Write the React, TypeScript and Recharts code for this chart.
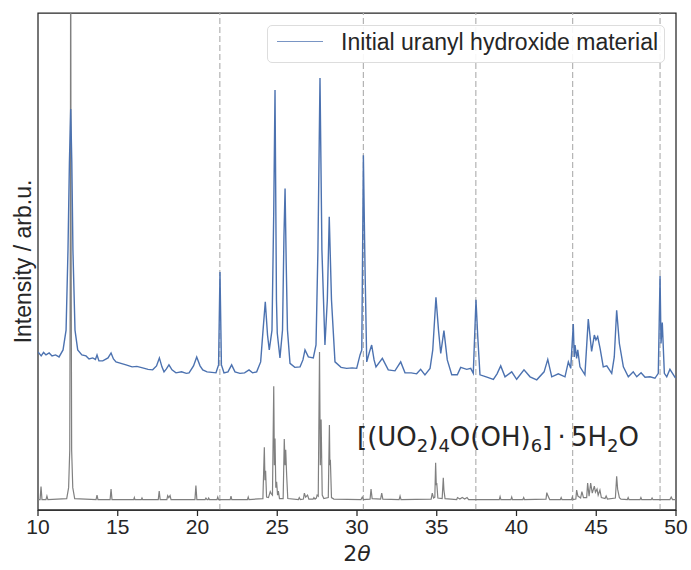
import React from 'react';
import {
  ComposedChart,
  Line,
  XAxis,
  YAxis,
  ReferenceLine,
  ReferenceArea,
  ReferenceDot,
  Legend,
  Label,
} from 'recharts';

const xTicks = [10, 15, 20, 25, 30, 35, 40, 45, 50];
const markerPositions = [21.4, 30.4, 37.45, 43.52, 49.0];
const measuredLabel = 'Initial uranyl hydroxide material';
const yAxisLabel = 'Intensity / arb.u.';
const annotationAnchor: [number, number] = [30.0, 12.9];

// measured pattern (2θ, intensity)
const measuredPattern: [number, number][] = [
  [10.0, 31.8], [10.2, 31.0], [10.35, 31.7], [10.5, 31.2], [10.7, 31.6], [10.88, 31.0], [11.1, 31.2], [11.32, 30.8],
  [11.57, 32.2], [11.76, 36.2], [11.88, 52.3], [11.97, 70.0], [12.05, 80.7], [12.12, 70.0], [12.19, 52.3], [12.32, 36.2],
  [12.49, 32.2], [12.75, 31.2], [13.01, 31.0], [13.2, 30.4], [13.43, 30.6], [13.6, 30.3], [13.7, 31.2], [13.82, 30.0],
  [14.06, 30.0], [14.39, 30.6], [14.58, 31.6], [14.73, 30.4], [14.89, 29.8], [15.2, 29.5], [15.52, 29.2], [15.9, 28.8],
  [16.2, 28.9], [16.56, 28.6], [16.9, 28.3], [17.19, 28.2], [17.43, 29.0], [17.61, 30.6], [17.77, 28.8], [17.9, 27.8],
  [18.05, 28.4], [18.21, 29.2], [18.4, 28.2], [18.65, 27.6], [19.0, 27.8], [19.3, 27.5], [19.47, 27.6], [19.75, 29.0],
  [19.95, 30.8], [20.16, 29.0], [20.33, 28.2], [20.6, 27.8], [20.9, 27.7], [21.16, 27.6], [21.32, 29.2], [21.41, 47.9],
  [21.5, 29.2], [21.66, 27.6], [21.91, 27.8], [22.14, 29.2], [22.35, 27.8], [22.66, 27.5], [22.95, 27.6], [23.23, 28.2],
  [23.45, 27.6], [23.71, 27.8], [23.96, 29.8], [24.11, 36.2], [24.25, 41.9], [24.39, 35.2], [24.5, 32.2], [24.67, 36.2],
  [24.78, 60.0], [24.86, 84.5], [24.95, 42.3], [25.0, 35.6], [25.17, 30.6], [25.33, 36.2], [25.42, 55.0], [25.49, 64.7],
  [25.56, 50.0], [25.64, 36.2], [25.8, 29.5], [26.1, 28.7], [26.43, 28.8], [26.61, 30.2], [26.74, 32.2], [26.95, 30.8],
  [27.26, 30.6], [27.43, 33.2], [27.55, 52.3], [27.68, 86.9], [27.8, 52.3], [27.99, 33.2], [28.14, 42.3], [28.26, 59.0],
  [28.4, 42.3], [28.62, 29.8], [29.0, 28.7], [29.35, 28.5], [29.7, 28.6], [29.98, 28.5], [30.19, 31.2], [30.3, 32.2],
  [30.4, 71.4], [30.5, 49.3], [30.61, 29.8], [30.78, 31.8], [30.92, 33.2], [31.07, 30.2], [31.19, 28.8], [31.59, 30.5],
  [31.96, 28.2], [32.38, 28.0], [32.74, 29.8], [33.01, 27.6], [33.4, 27.6], [33.74, 27.4], [33.99, 28.3], [34.26, 27.2],
  [34.58, 28.5], [34.75, 32.2], [34.95, 42.8], [35.11, 36.2], [35.25, 31.5], [35.45, 36.1], [35.66, 30.2], [35.94, 27.2],
  [36.29, 27.2], [36.5, 28.7], [36.88, 28.3], [37.13, 28.5], [37.29, 27.5], [37.46, 42.3], [37.57, 34.9], [37.71, 27.2],
  [38.1, 26.8], [38.55, 26.3], [38.78, 27.4], [39.01, 29.0], [39.28, 26.8], [39.7, 27.8], [40.01, 26.3], [40.47, 28.2],
  [40.85, 26.8], [41.27, 26.2], [41.73, 27.8], [41.96, 30.3], [42.21, 26.8], [42.62, 27.4], [43.04, 26.8], [43.25, 29.8],
  [43.4, 28.5], [43.56, 37.4], [43.62, 30.8], [43.67, 33.2], [43.77, 30.5], [43.84, 32.2], [43.98, 28.8], [44.29, 27.2],
  [44.5, 38.4], [44.71, 31.9], [44.88, 35.2], [44.98, 34.2], [45.09, 34.9], [45.24, 32.5], [45.44, 28.8], [45.66, 29.0],
  [45.97, 27.5], [46.13, 30.8], [46.28, 40.2], [46.45, 33.5], [46.7, 28.8], [47.01, 26.8], [47.32, 27.8], [47.54, 26.8],
  [47.81, 27.6], [48.06, 26.7], [48.37, 26.8], [48.68, 26.5], [48.89, 27.5], [49.0, 47.1], [49.06, 33.5], [49.14, 37.7],
  [49.27, 27.5], [49.42, 26.8], [49.62, 28.3], [49.94, 26.7], [50.0, 26.8],
];

// reference pattern (2θ, intensity)
const referencePattern: [number, number][] = [
  [10.0, 2.1], [10.13, 2.1], [10.19, 4.7], [10.25, 2.1], [10.5, 2.1], [10.56, 2.8], [10.62, 2.1],
  [11.8, 2.3], [11.92, 4.5], [11.99, 12], [12.03, 60], [12.05, 130], [12.07, 60], [12.11, 12], [12.18, 4.5], [12.3, 2.3],
  [13.64, 2.1], [13.7, 3.0], [13.76, 2.1],
  [14.52, 2.1], [14.58, 4.2], [14.64, 2.1],
  [16.0, 2.1], [16.04, 2.5], [16.08, 2.1], [16.48, 2.1], [16.52, 2.4], [16.56, 2.1],
  [17.54, 2.1], [17.6, 3.8], [17.66, 2.1],
  [18.08, 2.1], [18.13, 2.9], [18.2, 2.5], [18.28, 2.9], [18.34, 2.1],
  [19.84, 2.1], [19.9, 4.9], [19.96, 2.1],
  [20.48, 2.1], [20.53, 2.4], [20.6, 2.1], [20.66, 2.1], [20.7, 2.4], [20.75, 2.1],
  [21.22, 2.1], [21.27, 2.6], [21.32, 2.1],
  [22.05, 2.1], [22.1, 2.8], [22.15, 2.1],
  [23.13, 2.1], [23.18, 2.6], [23.23, 2.1],
  [24.1, 2.3], [24.19, 12.6], [24.23, 6.0], [24.27, 7.9], [24.33, 2.6], [24.45, 2.5], [24.56, 3.7], [24.62, 3.3],
  [24.7, 3.0], [24.78, 24.9], [24.82, 9.0], [24.86, 14.4], [24.91, 4.5], [24.96, 5.7], [25.02, 3.0], [25.07, 3.8], [25.14, 2.3],
  [25.37, 2.3], [25.44, 14.3], [25.49, 9.0], [25.53, 12.1], [25.59, 7.0], [25.66, 2.3],
  [26.33, 2.1], [26.38, 2.5], [26.45, 2.1], [26.64, 2.2], [26.7, 3.4], [26.78, 2.6], [26.9, 3.0], [26.98, 2.2],
  [27.25, 2.2], [27.3, 2.5], [27.37, 2.2], [27.45, 2.4], [27.5, 3.0], [27.57, 2.8],
  [27.65, 31.8], [27.7, 9.0], [27.75, 18.2], [27.82, 3.0], [27.92, 2.3],
  [28.2, 2.5], [28.27, 17.1], [28.3, 9.0], [28.33, 10.1], [28.4, 2.5], [28.55, 2.2],
  [30.25, 2.1], [30.33, 2.6], [30.4, 2.1],
  [30.82, 2.2], [30.88, 4.2], [30.95, 2.3], [31.48, 2.2], [31.55, 3.4], [31.62, 2.2],
  [32.64, 2.1], [32.7, 2.8], [32.76, 2.1],
  [34.65, 2.2], [34.72, 3.4], [34.8, 2.4], [34.88, 2.6], [34.93, 9.5], [34.97, 5.0], [35.0, 5.4], [35.07, 2.4],
  [35.34, 2.3], [35.41, 6.5], [35.45, 4.0], [35.52, 2.3],
  [36.25, 2.1], [36.3, 2.5], [36.45, 2.2], [36.6, 2.5], [36.75, 2.2], [36.9, 2.5], [37.0, 2.1],
  [38.92, 2.1], [38.97, 2.7], [39.02, 2.1], [39.65, 2.1], [39.7, 2.6], [39.75, 2.1], [40.4, 2.1], [40.45, 2.5], [40.5, 2.1],
  [41.85, 2.2], [41.9, 3.5], [41.98, 2.8], [42.08, 2.1], [42.75, 2.1], [42.8, 2.5], [42.85, 2.1], [43.45, 2.1], [43.5, 2.6], [43.55, 2.1],
  [43.72, 2.2], [43.77, 4.0], [43.85, 2.8], [44.02, 2.4], [44.1, 3.7], [44.2, 2.5], [44.4, 2.5], [44.46, 5.4], [44.55, 2.8],
  [44.65, 5.4], [44.75, 3.4], [44.88, 4.8], [44.95, 3.6], [45.05, 4.2], [45.12, 3.0], [45.23, 4.0], [45.32, 2.5],
  [45.55, 2.3], [45.62, 2.8], [45.7, 2.2],
  [46.2, 2.4], [46.28, 6.8], [46.34, 4.2], [46.45, 2.5], [46.55, 2.2],
  [46.95, 2.1], [47.0, 2.5], [47.05, 2.1], [47.75, 2.1], [47.8, 2.5], [47.85, 2.1], [48.45, 2.1], [48.5, 2.4], [48.55, 2.1],
  [49.62, 2.1], [49.7, 2.6], [49.78, 2.1], [50.0, 2.1],
];

const measuredData = measuredPattern.map(([x, y]) => ({ x, y }));
const referenceData = referencePattern.map(([x, y]) => ({ x, y }));

const INK = '#262626';
const BLUE = '#4c72b0';
const GRAY = '#808080';

const renderYLabel = (props: any) => {
  const vb = props.viewBox || { x: 0, y: 13, width: 38, height: 497 };
  const cx = vb.x + 22.5;
  const cy = vb.y + vb.height / 2;
  return (
    <text
      x={cx}
      y={cy}
      transform={`rotate(-90 ${cx} ${cy})`}
      textAnchor="middle"
      dominantBaseline="central"
      fontFamily="Liberation Sans, Arial, sans-serif"
      fontSize={23}
      fill={INK}
    >
      {yAxisLabel}
    </text>
  );
};

const renderXLabel = (props: any) => {
  const vb = props.viewBox || { x: 38, y: 510, width: 638, height: 60 };
  const cx = vb.x + vb.width / 2;
  return (
    <text
      x={cx}
      y={vb.y + 43}
      textAnchor="middle"
      dominantBaseline="central"
      fontFamily="DejaVu Sans, sans-serif"
      fontSize={22}
      fill={INK}
    >
      <tspan>2</tspan>
      <tspan fontStyle="italic">θ</tspan>
    </text>
  );
};

const renderAnnotation = (props: any) => {
  const vb = props.viewBox || {};
  const x = vb.cx !== undefined ? vb.cx : vb.x;
  const y = vb.cy !== undefined ? vb.cy : vb.y;
  const sub = 18;
  const d = 6;
  return (
    <text x={x} y={y} fontFamily="DejaVu Sans, sans-serif" fontSize={26} fill={INK}>
      <tspan>[(UO</tspan>
      <tspan fontSize={sub} dy={d}>2</tspan>
      <tspan dy={-d}>)</tspan>
      <tspan fontSize={sub} dy={d}>4</tspan>
      <tspan dy={-d}>O(OH)</tspan>
      <tspan fontSize={sub} dy={d}>6</tspan>
      <tspan dy={-d}>]{'\u2009'}·{'\u2009'}5H</tspan>
      <tspan fontSize={sub} dy={d}>2</tspan>
      <tspan dy={-d}>O</tspan>
    </text>
  );
};

const renderLegend = () => (
  <div
    style={{
      boxSizing: 'border-box',
      width: 398,
      height: 38,
      border: '1px solid #dddddd',
      borderRadius: 5,
      background: 'rgba(255,255,255,0.9)',
      position: 'relative',
      fontFamily: 'Liberation Sans, Arial, sans-serif',
      fontSize: 23,
      color: INK,
    }}
  >
    <div
      style={{
        position: 'absolute',
        left: 9,
        top: 15,
        width: 46,
        height: 0,
        borderTop: `1.5px solid ${BLUE}`,
        opacity: 0.75,
      }}
    />
    <div
      style={{
        position: 'absolute',
        left: 73,
        top: 0,
        height: 36,
        lineHeight: '33px',
        whiteSpace: 'nowrap',
      }}
    >
      {measuredLabel}
    </div>
  </div>
);

export default function App() {
  return (
    <div style={{ position: 'absolute', left: 0, top: 0, width: 691, height: 570, background: '#fff' }}>
      <ComposedChart width={691} height={570} margin={{ top: 13, right: 15, bottom: 0, left: 0 }}>
        <XAxis
          type="number"
          dataKey="x"
          domain={[10, 50]}
          ticks={xTicks}
          allowDataOverflow
          height={60}
          tickSize={6}
          tickMargin={3}
          axisLine={{ stroke: INK, strokeWidth: 1.25 }}
          tickLine={{ stroke: INK, strokeWidth: 1.25 }}
          tick={{ fill: INK, fontSize: 21, fontFamily: 'Liberation Sans, Arial, sans-serif' }}
        >
          <Label content={renderXLabel} />
        </XAxis>
        <YAxis
          type="number"
          domain={[0, 100]}
          allowDataOverflow
          width={38}
          tick={false}
          tickLine={false}
          axisLine={false}
        >
          <Label content={renderYLabel} />
        </YAxis>
        {markerPositions.map((m) => (
          <ReferenceLine
            key={m}
            x={m}
            stroke="#b3b3b3"
            strokeWidth={1.2}
            strokeDasharray="6 3"
          />
        ))}
        <Line
          data={referenceData}
          dataKey="y"
          type="linear"
          stroke={GRAY}
          strokeWidth={1.2}
          dot={false}
          activeDot={false}
          isAnimationActive={false}
        />
        <Line
          data={measuredData}
          dataKey="y"
          type="linear"
          stroke={BLUE}
          strokeWidth={1.4}
          dot={false}
          activeDot={false}
          isAnimationActive={false}
        />
        <ReferenceArea x1={10} x2={50} y1={0} y2={100} fill="none" stroke={INK} strokeWidth={1.25} />
        <ReferenceDot
          x={annotationAnchor[0]}
          y={annotationAnchor[1]}
          r={0}
          fill="none"
          stroke="none"
          label={<Label content={renderAnnotation} />}
        />
        <Legend
          layout="vertical"
          align="center"
          verticalAlign="middle"
          wrapperStyle={{ left: 267, top: 25, width: 398, height: 38 }}
          content={renderLegend}
        />
      </ComposedChart>
    </div>
  );
}
